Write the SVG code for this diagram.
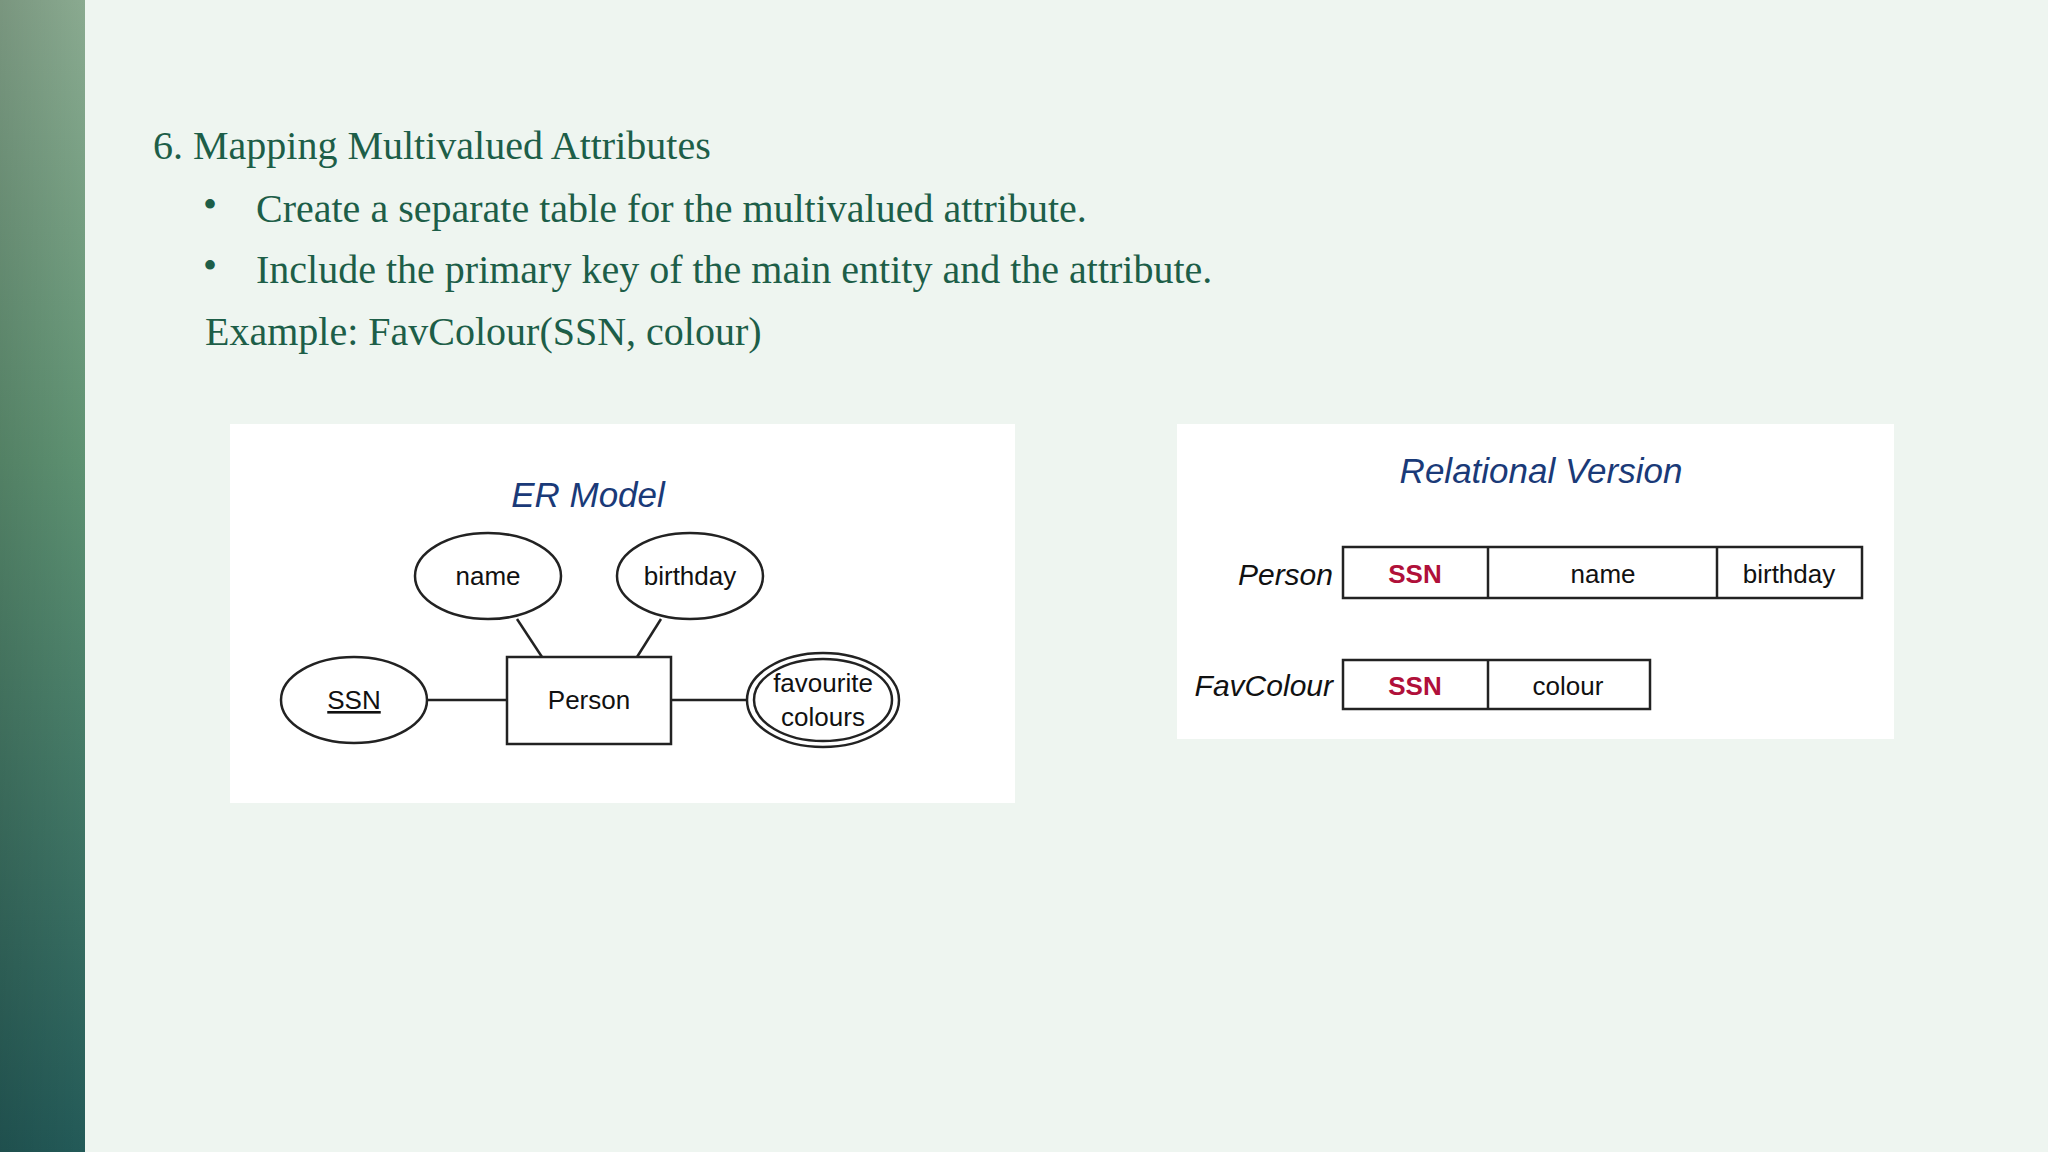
<svg xmlns="http://www.w3.org/2000/svg" width="2048" height="1152" viewBox="0 0 2048 1152">
<defs>
<linearGradient id="bar" x1="0" y1="0" x2="0" y2="1">
<stop offset="0" stop-color="#8aaa90"/>
<stop offset="0.4" stop-color="#5e9272"/>
<stop offset="1" stop-color="#235a58"/>
</linearGradient>
<linearGradient id="barh" x1="0" y1="0" x2="1" y2="0">
<stop offset="0" stop-color="#000" stop-opacity="0.12"/>
<stop offset="1" stop-color="#000" stop-opacity="0"/>
</linearGradient>
</defs>
<style>
.h{font-family:"Liberation Serif",serif;fill:#1d5e48;font-size:40px}
.er{font-family:"Liberation Sans",Arial,sans-serif;font-size:26px;fill:#111;text-anchor:middle}
.ttl{font-family:"Liberation Sans",Arial,sans-serif;font-style:italic;font-size:35px;fill:#1a3a78;text-anchor:middle}
.shape{fill:#fff;stroke:#222;stroke-width:2.5}
.red{fill:#b0103a;font-weight:bold}
.lbl{font-family:"Liberation Sans",Arial,sans-serif;font-style:italic;font-size:30px;fill:#111;text-anchor:end}
</style>
<rect width="2048" height="1152" fill="#eef5f0"/>
<rect width="85" height="1152" fill="url(#bar)"/>
<rect width="85" height="1152" fill="url(#barh)"/>
<text class="h" x="153" y="159">6. Mapping Multivalued Attributes</text>
<text class="h" x="203" y="218">•</text>
<text class="h" x="256" y="222">Create a separate table for the multivalued attribute.</text>
<text class="h" x="203" y="279">•</text>
<text class="h" x="256" y="283">Include the primary key of the main entity and the attribute.</text>
<text class="h" x="205" y="345">Example: FavColour(SSN, colour)</text>

<rect x="230" y="424" width="785" height="379" fill="#fff"/>
<rect x="1177" y="424" width="717" height="315" fill="#fff"/>

<text class="ttl" x="588" y="507">ER Model</text>
<g id="connectors" stroke="#222" stroke-width="2.5">
<line x1="517" y1="619" x2="542" y2="657"/>
<line x1="661" y1="619" x2="637" y2="657"/>
<line x1="428" y1="700" x2="507" y2="700"/>
<line x1="671" y1="700" x2="747" y2="700"/>
</g>
<g id="name"><ellipse class="shape" cx="488" cy="576" rx="73" ry="43"/><text class="er" x="488" y="585">name</text></g>
<g id="birthday"><ellipse class="shape" cx="690" cy="576" rx="73" ry="43"/><text class="er" x="690" y="585">birthday</text></g>
<g id="ssn"><ellipse class="shape" cx="354" cy="700" rx="73" ry="43"/><text class="er" x="354" y="709" text-decoration="underline">SSN</text></g>
<g id="person"><rect class="shape" x="507" y="657" width="164" height="87"/><text class="er" x="589" y="709">Person</text></g>
<g id="fav"><ellipse class="shape" cx="823" cy="700" rx="76" ry="47"/><ellipse class="shape" cx="823" cy="700" rx="69" ry="41"/>
<text class="er" x="823" y="692">favourite</text><text class="er" x="823" y="726">colours</text></g>

<text class="ttl" x="1541" y="483">Relational Version</text>
<g id="person-table">
<text class="lbl" x="1333" y="585">Person</text>
<rect class="shape" x="1343" y="547" width="519" height="51"/>
<line x1="1488" y1="547" x2="1488" y2="598" stroke="#222" stroke-width="2.5"/>
<line x1="1717" y1="547" x2="1717" y2="598" stroke="#222" stroke-width="2.5"/>
<text class="er red" x="1415" y="583">SSN</text>
<text class="er" x="1603" y="583">name</text>
<text class="er" x="1789" y="583">birthday</text>
</g>
<g id="favcolour-table">
<text class="lbl" x="1333" y="696">FavColour</text>
<rect class="shape" x="1343" y="660" width="307" height="49"/>
<line x1="1488" y1="660" x2="1488" y2="709" stroke="#222" stroke-width="2.5"/>
<text class="er red" x="1415" y="695">SSN</text>
<text class="er" x="1568" y="695" fill="#b0103a">colour</text>
</g>
</svg>
